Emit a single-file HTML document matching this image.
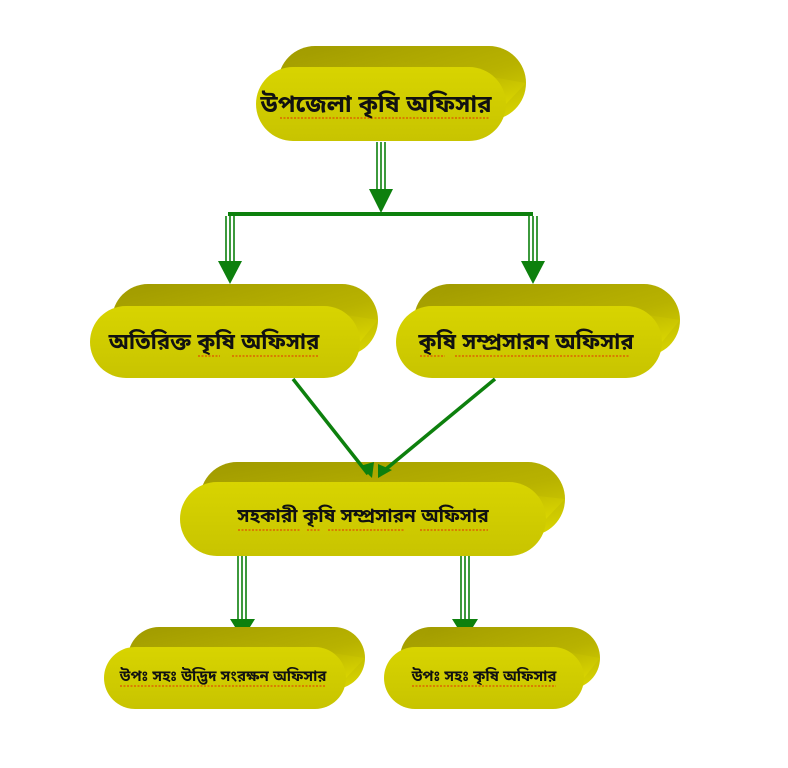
<!DOCTYPE html>
<html><head><meta charset="utf-8"><style>
html,body{margin:0;padding:0;background:#fff}
svg{display:block}
text{font-family:"Liberation Sans","Noto Sans Bengali","Vrinda",sans-serif;font-weight:bold;fill:#111;text-anchor:middle}
</style></head><body>
<svg width="788" height="768" viewBox="0 0 788 768" xmlns="http://www.w3.org/2000/svg">
<defs>
<linearGradient id="bk" x1="0" y1="0" x2="1" y2="1">
<stop offset="0" stop-color="#a09a00"/><stop offset="0.6" stop-color="#b8b200"/><stop offset="1" stop-color="#dcd800"/>
</linearGradient>
<linearGradient id="fr" x1="0" y1="0" x2="0" y2="1">
<stop offset="0" stop-color="#d8d400"/><stop offset="1" stop-color="#c8c400"/>
</linearGradient>
</defs>
<g stroke="none">
<!-- node1 -->
<rect x="278" y="46" width="248" height="74" rx="37" fill="url(#bk)"/>
<polygon points="293,67 315,46 526,83 506,104" fill="url(#bk)"/>
<rect x="256" y="67" width="250" height="74" rx="37" fill="url(#fr)"/>
<!-- node2 -->
<rect x="112" y="284" width="266" height="72" rx="36" fill="url(#bk)"/>
<polygon points="126,306 148,284 378,320 360,342" fill="url(#bk)"/>
<rect x="90" y="306" width="270" height="72" rx="36" fill="url(#fr)"/>
<!-- node3 -->
<rect x="414" y="284" width="266" height="72" rx="36" fill="url(#bk)"/>
<polygon points="432,306 450,284 680,320 662,342" fill="url(#bk)"/>
<rect x="396" y="306" width="266" height="72" rx="36" fill="url(#fr)"/>
<!-- node4 -->
<rect x="200" y="462" width="365" height="74" rx="37" fill="url(#bk)"/>
<polygon points="217,482 237,462 565,499 546,519" fill="url(#bk)"/>
<rect x="180" y="482" width="366" height="74" rx="37" fill="url(#fr)"/>
<!-- node5 -->
<rect x="128" y="627" width="237" height="62" rx="31" fill="url(#bk)"/>
<polygon points="135,647 159,627 365,658 346,678" fill="url(#bk)"/>
<rect x="104" y="647" width="242" height="62" rx="31" fill="url(#fr)"/>
<!-- node6 -->
<rect x="400" y="627" width="200" height="62" rx="31" fill="url(#bk)"/>
<polygon points="415,647 431,627 600,658 584,678" fill="url(#bk)"/>
<rect x="384" y="647" width="200" height="62" rx="31" fill="url(#fr)"/>
</g>
<g stroke="#0d800d" fill="none">
<path d="M377 142V192M381 142V192M385 142V192" stroke-width="1.6"/>
<path d="M228 214H533" stroke-width="4"/>
<path d="M226 216V263M230 216V263M234 216V263" stroke-width="1.6"/>
<path d="M529 216V263M533 216V263M537 216V263" stroke-width="1.6"/>
<path d="M293 379L368 474" stroke-width="3.5"/>
<path d="M495 379L380 474" stroke-width="3.5"/>
<path d="M238 556V620M242 556V620M246 556V620" stroke-width="1.6"/>
<path d="M461 556V620M465 556V620M469 556V620" stroke-width="1.6"/>
</g>
<g fill="#0d800d">
<polygon points="369,189 393,189 381,213"/>
<polygon points="218,261 242,261 230,284"/>
<polygon points="521,261 545,261 533,284"/>
<polygon points="360,466 372,478 374,462"/>
<polygon points="378,478 392,470 378,464"/>
<polygon points="230,619 255,619 250,627 235,627"/>
<polygon points="452,619 478,619 473,627 457,627"/>
</g>
<g stroke="#e05000" stroke-width="1.2" stroke-dasharray="2 1.5" fill="none">
<path d="M280 118H490"/>
<path d="M198 356H220M232 356H318"/>
<path d="M420 356H445M455 356H630"/>
<path d="M238 530H300M307 530H320M328 530H405M420 530H488"/>
<path d="M120 686H326"/>
<path d="M412 686H556"/>
</g>
<text x="376" y="112" font-size="24">উপজেলা কৃষি অফিসার</text>
<text x="214" y="349" font-size="22">অতিরিক্ত কৃষি অফিসার</text>
<text x="526" y="349" font-size="22">কৃষি সম্প্রসারন অফিসার</text>
<text x="363" y="522" font-size="19">সহকারী কৃষি সম্প্রসারন  অফিসার</text>
<text x="223" y="681" font-size="15">উপঃ সহঃ  উদ্ভিদ সংরক্ষন অফিসার</text>
<text x="484" y="681" font-size="15">উপঃ সহঃ  কৃষি অফিসার</text>
</svg>
</body></html>
